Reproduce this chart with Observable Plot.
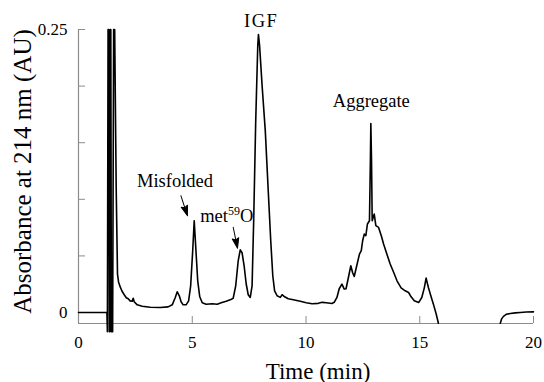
<!DOCTYPE html>
<html><head><meta charset="utf-8">
<script src="https://cdn.jsdelivr.net/npm/d3@7"></script>
<script src="https://cdn.jsdelivr.net/npm/@observablehq/plot@0.6"></script>
<style>body{margin:0;background:#fff} #chart svg{display:block}</style>
</head><body><div id="chart"></div>
<script>
// Chromatogram trace (time in minutes, absorbance in AU); NaN marks where the trace leaves the plotted range
const timeMin = [0,1.248,1.27,1.30,1.33,1.355,1.375,1.40,1.42,1.445,1.50,1.545,1.59,1.657,1.714,1.76,1.833,1.91,2.01,2.10,2.185,2.27,2.36,2.404,2.448,2.58,2.80,3.15,3.59,3.94,4.12,4.25,4.34,4.43,4.51,4.60,4.73,4.84,4.93,5.02,5.086,5.15,5.24,5.33,5.44,5.61,5.88,6.10,6.27,6.49,6.67,6.80,6.91,7.02,7.11,7.19,7.28,7.37,7.46,7.55,7.63,7.70,7.79,7.88,7.91,7.96,8.07,8.21,8.34,8.45,8.54,8.62,8.73,8.87,8.95,9.06,9.22,9.44,9.75,10.01,10.27,10.54,10.71,10.89,11.14,11.24,11.36,11.46,11.58,11.68,11.76,11.88,11.97,12.05,12.12,12.23,12.35,12.43,12.49,12.56,12.63,12.70,12.79,12.83,12.85,12.88,12.91,13.00,13.07,13.19,13.31,13.41,13.55,13.70,13.86,14.00,14.18,14.36,14.51,14.62,14.76,14.95,15.09,15.20,15.28,15.38,15.50,15.60,15.72,15.82,17.0,18.54,18.60,18.68,18.80,18.98,19.20,19.42,19.68,20];
const absorbance = [0,0,-0.017,0.25,0.25,-0.017,-0.017,0.25,0.25,-0.017,-0.017,0.25,0.25,0.1097,0.034,0.027,0.0226,0.019,0.0157,0.013,0.0121,0.0103,0.0099,0.0126,0.0095,0.0068,0.0055,0.0046,0.0044,0.005,0.0068,0.013,0.0183,0.0148,0.0095,0.0068,0.0068,0.0103,0.0236,0.0546,0.0811,0.059,0.028,0.0139,0.0086,0.0073,0.0077,0.0073,0.0086,0.0099,0.0112,0.0126,0.0236,0.0457,0.0554,0.0528,0.0413,0.0254,0.0157,0.0133,0.0236,0.0811,0.1695,0.2358,0.2456,0.2358,0.2005,0.1607,0.1076,0.0634,0.0325,0.0192,0.0148,0.0134,0.0157,0.0139,0.0121,0.0112,0.0099,0.0086,0.0077,0.0081,0.009,0.0086,0.008,0.009,0.0133,0.021,0.0251,0.0207,0.021,0.0325,0.0413,0.0351,0.0318,0.0413,0.0516,0.0546,0.0634,0.0693,0.0678,0.0782,0.0811,0.1342,0.1669,0.1342,0.0811,0.087,0.0767,0.0752,0.0678,0.0605,0.0519,0.0428,0.0351,0.028,0.0218,0.0192,0.0177,0.0139,0.0103,0.0088,0.0133,0.0218,0.0304,0.0221,0.0139,0.0074,-0.0011,-0.0095,NaN,-0.0095,-0.0056,-0.0034,-0.0016,-0.0009,-0.0003,0,0.0004,0.0006];

const xTicks = [0, 5, 10, 15, 20];
const yTicks = [0, 0.05, 0.1, 0.15, 0.2, 0.25];
const yTickLabels = ["0", "", "", "", "", "0.25"];
const xDomain = [0, 20];
const yDomain = [-0.0097, 0.25];

// Peak annotations (anchored in data units)
const centeredNames = ["IGF", "Aggregate"];
const centeredTime = [8.03, 12.87];
const centeredAbs = [0.252, 0.1819];
const leftNames = ["Misfolded", "met59O"];
const leftTime = [2.57, 5.35];
const leftAbs = [0.1112, 0.0802];
const arrowFromTime = [4.50, 6.80];
const arrowFromAbs = [0.1032, 0.0753];
const arrowToTime = [4.79, 6.99];
const arrowToAbs = [0.0855, 0.0568];

const W = 544, H = 382, ML = 78, MR = 11, MT = 29, MB = 59;
const kx = (W - ML - MR) / (xDomain[1] - xDomain[0]);
const ky = (H - MT - MB) / (yDomain[1] - yDomain[0]);

const trace = timeMin.map((t, i) => ({t, v: absorbance[i]}));
const centered = centeredNames.map((name, i) => ({name, t: centeredTime[i], v: centeredAbs[i]}));
const leftAligned = leftNames.map((name, i) => ({name, t: leftTime[i], v: leftAbs[i]}));
const arrows = arrowFromTime.map((t, i) => {
  const dx = (arrowToTime[i] - t) * kx;
  const dy = -(arrowToAbs[i] - arrowFromAbs[i]) * ky;
  return {t, v: arrowFromAbs[i], len: Math.hypot(dx, dy), rot: Math.atan2(dx, -dy) * 180 / Math.PI};
});
const arrowShape = {
  draw(ctx, l) {
    ctx.moveTo(0, 0); ctx.lineTo(0, -l + 7);
    ctx.moveTo(0, -l); ctx.lineTo(-3.3, -l + 10); ctx.lineTo(0, -l + 8.5); ctx.lineTo(3.3, -l + 10); ctx.closePath();
  }
};

const font = "'Liberation Serif', 'Times New Roman', serif";
const plot = Plot.plot({
  width: W, height: H,
  marginLeft: ML, marginRight: MR, marginTop: MT, marginBottom: MB,
  style: {fontFamily: font, fontSize: "17px", color: "black", background: "white"},
  x: {domain: xDomain},
  y: {domain: yDomain},
  length: {type: "identity"},
  marks: [
    Plot.ruleX([xDomain[0]], {stroke: "#8c8c8c", strokeWidth: 1.2}),
    Plot.ruleY([yDomain[0]], {stroke: "#8c8c8c", strokeWidth: 1.2}),
    Plot.axisX({ticks: xTicks, tickSize: -7, tickPadding: 19, stroke: "#8c8c8c", fill: "black", fontSize: 17, label: null}),
    Plot.axisY({ticks: yTicks, tickSize: -7, tickPadding: 18, tickFormat: (d) => yTickLabels[yTicks.indexOf(d)], stroke: "#8c8c8c", fill: "black", fontSize: 17, label: null}),
    Plot.text(["Absorbance at 214 nm (AU)"], {frameAnchor: "left", dx: -56, dy: -5, rotate: -90, textAnchor: "middle", lineAnchor: "middle", fontSize: 25, fill: "black"}),
    Plot.text(["Time (min)"], {frameAnchor: "bottom", dx: 12, dy: 55, textAnchor: "middle", lineAnchor: "bottom", fontSize: 23, fill: "black"}),
    Plot.line(trace, {x: "t", y: "v", stroke: "black", strokeWidth: 1.6, curve: "linear"}),
    Plot.text(centered, {x: "t", y: "v", text: "name", textAnchor: "middle", lineAnchor: "bottom", fontSize: 18.5, fill: "black"}),
    Plot.text(leftAligned, {x: "t", y: "v", text: "name", textAnchor: "start", lineAnchor: "bottom", fontSize: 18.5, fill: "black"}),
    Plot.vector(arrows, {x: "t", y: "v", length: "len", rotate: "rot", anchor: "start", shape: arrowShape, stroke: "black", fill: "black", strokeWidth: 1})
  ]
});

plot.querySelectorAll("text").forEach(el => {
  if (el.textContent === "met59O") {
    el.innerHTML = 'met<tspan dy="-7" font-size="12">59</tspan><tspan dy="7">O</tspan>';
  } else if (el.textContent === "IGF") {
    el.setAttribute("letter-spacing", "1.5");
  }
});
document.getElementById("chart").appendChild(plot);
</script>
</body></html>
